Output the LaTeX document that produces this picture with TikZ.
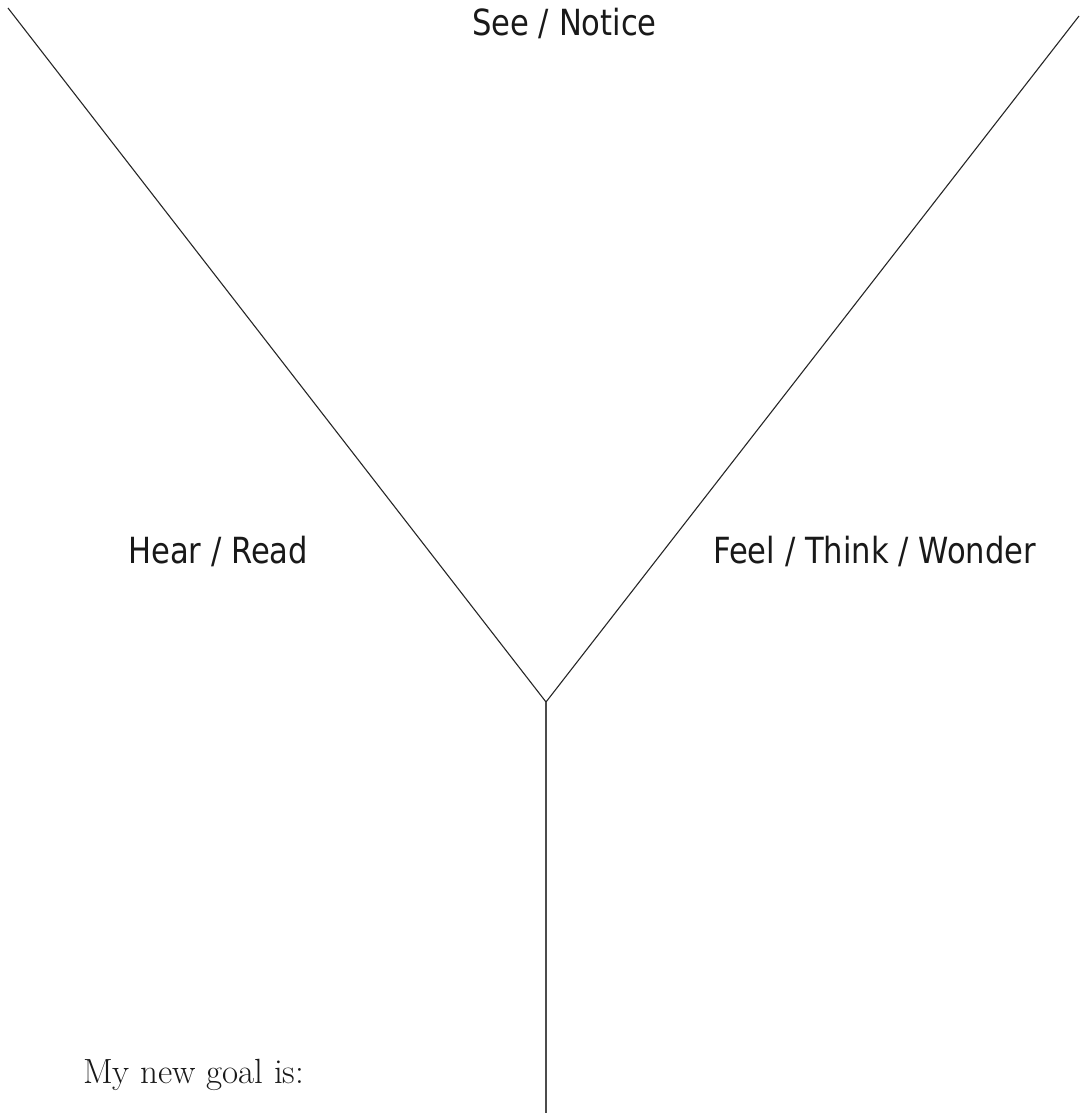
\documentclass[tikz,border=0pt]{standalone}
\usepackage{fontspec}
\usepackage{graphicx}
\newfontfamily\labfont{DejaVu Sans}
\newcommand{\labtext}[1]{\scalebox{0.85}[1]{\labfont\fontsize{36}{40}\selectfont #1}}
\begin{document}
\begin{tikzpicture}[x=1pt,y=-1pt,
  lab/.style={inner sep=0pt,anchor=base west,text=black!90},
  yline/.style={draw=black!85,line width=1.1pt},
  stem/.style={draw=black!70,line width=1.6pt}]
\useasboundingbox (0,0) rectangle (1079,1115);
\coordinate (tl) at (8,8);
\coordinate (tr) at (1079,16);
\coordinate (v) at (546,702);
\coordinate (b) at (546,1113);
\draw[yline] (tl) -- (v) -- (tr);
\draw[stem] (v) -- (b);
\node[lab] (see) at (472,36) {\labtext{See / Notice}};
\node[lab] (hear) at (128,563) {\labtext{Hear / Read}};
\node[lab] (feel) at (713,563) {\labtext{Feel / Think / Wonder}};
\node[lab] (goal) at (83,1083) {\fontsize{35}{40}\selectfont My new goal is:};
\end{tikzpicture}
\end{document}
